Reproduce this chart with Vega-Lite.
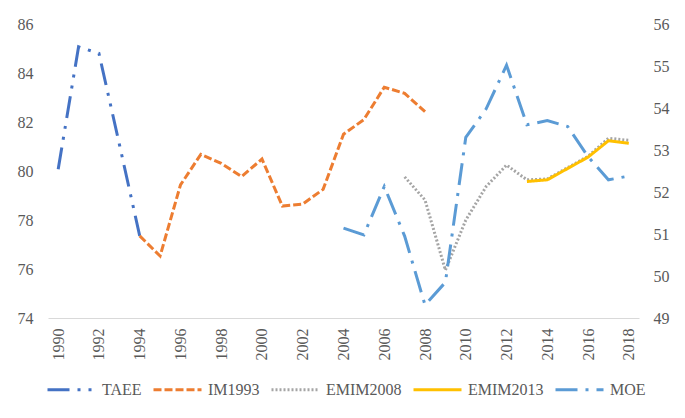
{
  "$schema": "https://vega.github.io/schema/vega-lite/v6.json",
  "width": 591,
  "height": 294,
  "autosize": {"type": "none"},
  "padding": {"left": 48, "top": 24, "right": 46, "bottom": 100},
  "config": {
    "view": {"stroke": null},
    "font": "Liberation Serif",
    "axis": {"labelFont": "Liberation Serif", "labelColor": "#595959", "labelFontSize": 16, "grid": false, "ticks": false, "title": null},
    "legend": {"labelFont": "Liberation Serif"}
  },
  "data": {
    "values": [
      {"year": 1990, "series": "TAEE", "value": 80.07},
      {"year": 1991, "series": "TAEE", "value": 85.07},
      {"year": 1992, "series": "TAEE", "value": 84.8},
      {"year": 1993, "series": "TAEE", "value": 81.1},
      {"year": 1994, "series": "TAEE", "value": 77.35},
      {"year": 1994, "series": "IM1993", "value": 77.35},
      {"year": 1995, "series": "IM1993", "value": 76.53},
      {"year": 1996, "series": "IM1993", "value": 79.43},
      {"year": 1997, "series": "IM1993", "value": 80.68},
      {"year": 1998, "series": "IM1993", "value": 80.31},
      {"year": 1999, "series": "IM1993", "value": 79.77},
      {"year": 2000, "series": "IM1993", "value": 80.49},
      {"year": 2001, "series": "IM1993", "value": 78.57},
      {"year": 2002, "series": "IM1993", "value": 78.65},
      {"year": 2003, "series": "IM1993", "value": 79.25},
      {"year": 2004, "series": "IM1993", "value": 81.5},
      {"year": 2005, "series": "IM1993", "value": 82.1},
      {"year": 2006, "series": "IM1993", "value": 83.42},
      {"year": 2007, "series": "IM1993", "value": 83.17},
      {"year": 2008, "series": "IM1993", "value": 82.42},
      {"year": 2007, "series": "EMIM2008", "value": 52.36},
      {"year": 2008, "series": "EMIM2008", "value": 51.81},
      {"year": 2009, "series": "EMIM2008", "value": 50.14},
      {"year": 2010, "series": "EMIM2008", "value": 51.33},
      {"year": 2011, "series": "EMIM2008", "value": 52.13},
      {"year": 2012, "series": "EMIM2008", "value": 52.64},
      {"year": 2013, "series": "EMIM2008", "value": 52.29},
      {"year": 2014, "series": "EMIM2008", "value": 52.31},
      {"year": 2015, "series": "EMIM2008", "value": 52.58},
      {"year": 2016, "series": "EMIM2008", "value": 52.85},
      {"year": 2017, "series": "EMIM2008", "value": 53.28},
      {"year": 2018, "series": "EMIM2008", "value": 53.23},
      {"year": 2013, "series": "EMIM2013", "value": 52.25},
      {"year": 2014, "series": "EMIM2013", "value": 52.29},
      {"year": 2015, "series": "EMIM2013", "value": 52.56},
      {"year": 2016, "series": "EMIM2013", "value": 52.83},
      {"year": 2017, "series": "EMIM2013", "value": 53.22},
      {"year": 2018, "series": "EMIM2013", "value": 53.16},
      {"year": 2004, "series": "MOE", "value": 51.14},
      {"year": 2005, "series": "MOE", "value": 50.98},
      {"year": 2006, "series": "MOE", "value": 52.13},
      {"year": 2007, "series": "MOE", "value": 50.95},
      {"year": 2008, "series": "MOE", "value": 49.31},
      {"year": 2009, "series": "MOE", "value": 49.85},
      {"year": 2010, "series": "MOE", "value": 53.3},
      {"year": 2011, "series": "MOE", "value": 53.98},
      {"year": 2012, "series": "MOE", "value": 55.02},
      {"year": 2013, "series": "MOE", "value": 53.6},
      {"year": 2014, "series": "MOE", "value": 53.7},
      {"year": 2015, "series": "MOE", "value": 53.56},
      {"year": 2016, "series": "MOE", "value": 52.84},
      {"year": 2017, "series": "MOE", "value": 52.29},
      {"year": 2018, "series": "MOE", "value": 52.38}
    ]
  },
  "encoding": {
    "x": {
      "field": "year", "type": "quantitative",
      "scale": {"domain": [1989.5, 2018.5], "nice": false, "zero": false},
      "axis": {
        "values": [1990, 1992, 1994, 1996, 1998, 2000, 2002, 2004, 2006, 2008, 2010, 2012, 2014, 2016, 2018],
        "format": "d", "labelAngle": -90, "labelPadding": 10,
        "domainColor": "#D9D9D9", "domainWidth": 1
      }
    },
    "color": {
      "field": "series", "type": "nominal",
      "scale": {"domain": ["TAEE", "IM1993", "EMIM2008", "EMIM2013", "MOE"], "range": ["#4472C4", "#ED7D31", "#A5A5A5", "#FFC000", "#5B9BD5"]},
      "legend": {
        "title": null, "orient": "none", "direction": "horizontal", "legendX": -2, "legendY": 340,
        "symbolType": "stroke", "symbolSize": 2304, "labelFont": "Liberation Serif", "labelFontSize": 16,
        "labelColor": "#595959", "labelOffset": 5, "columnPadding": 5
      }
    },
    "strokeDash": {
      "field": "series", "type": "nominal",
      "scale": {"domain": ["TAEE", "IM1993", "EMIM2008", "EMIM2013", "MOE"], "range": [[22, 8, 3, 8, 3, 8], [8, 3], [2, 2], [1, 0], [22, 8, 3, 8]]},
      "legend": {
        "title": null, "orient": "none", "direction": "horizontal", "legendX": -2, "legendY": 340,
        "symbolType": "stroke", "symbolSize": 2304, "labelFont": "Liberation Serif", "labelFontSize": 16,
        "labelColor": "#595959", "labelOffset": 5, "columnPadding": 5
      }
    },
    "strokeWidth": {
      "field": "series", "type": "nominal",
      "scale": {"domain": ["TAEE", "IM1993", "EMIM2008", "EMIM2013", "MOE"], "range": [3, 3, 2.5, 3, 3]},
      "legend": {
        "title": null, "orient": "none", "direction": "horizontal", "legendX": -2, "legendY": 340,
        "symbolType": "stroke", "symbolSize": 2304, "labelFont": "Liberation Serif", "labelFontSize": 16,
        "labelColor": "#595959", "labelOffset": 5, "columnPadding": 5
      }
    }
  },
  "layer": [
    {
      "layer": [
        {
          "transform": [{"filter": "datum.series === 'TAEE'"}],
          "mark": {"type": "line"},
          "encoding": {"y": {"field": "value", "type": "quantitative", "scale": {"domain": [74, 86], "nice": false, "zero": false}, "axis": {"values": [74, 76, 78, 80, 82, 84, 86], "domain": false, "labelPadding": 15}}}
        },
        {
          "transform": [{"filter": "datum.series === 'IM1993'"}],
          "mark": {"type": "line"},
          "encoding": {"y": {"field": "value", "type": "quantitative", "scale": {"domain": [74, 86], "nice": false, "zero": false}, "axis": {"values": [74, 76, 78, 80, 82, 84, 86], "domain": false, "labelPadding": 15}}}
        }
      ]
    },
    {
      "layer": [
        {
          "transform": [{"filter": "datum.series === 'EMIM2008'"}],
          "mark": {"type": "line"},
          "encoding": {"y": {"field": "value", "type": "quantitative", "scale": {"domain": [49, 56], "nice": false, "zero": false}, "axis": {"orient": "right", "values": [49, 50, 51, 52, 53, 54, 55, 56], "domain": false, "labelPadding": 14}}}
        },
        {
          "transform": [{"filter": "datum.series === 'EMIM2013'"}],
          "mark": {"type": "line"},
          "encoding": {"y": {"field": "value", "type": "quantitative", "scale": {"domain": [49, 56], "nice": false, "zero": false}, "axis": {"orient": "right", "values": [49, 50, 51, 52, 53, 54, 55, 56], "domain": false, "labelPadding": 14}}}
        },
        {
          "transform": [{"filter": "datum.series === 'MOE'"}],
          "mark": {"type": "line"},
          "encoding": {"y": {"field": "value", "type": "quantitative", "scale": {"domain": [49, 56], "nice": false, "zero": false}, "axis": {"orient": "right", "values": [49, 50, 51, 52, 53, 54, 55, 56], "domain": false, "labelPadding": 14}}}
        }
      ]
    }
  ],
  "resolve": {"scale": {"y": "independent"}}
}
